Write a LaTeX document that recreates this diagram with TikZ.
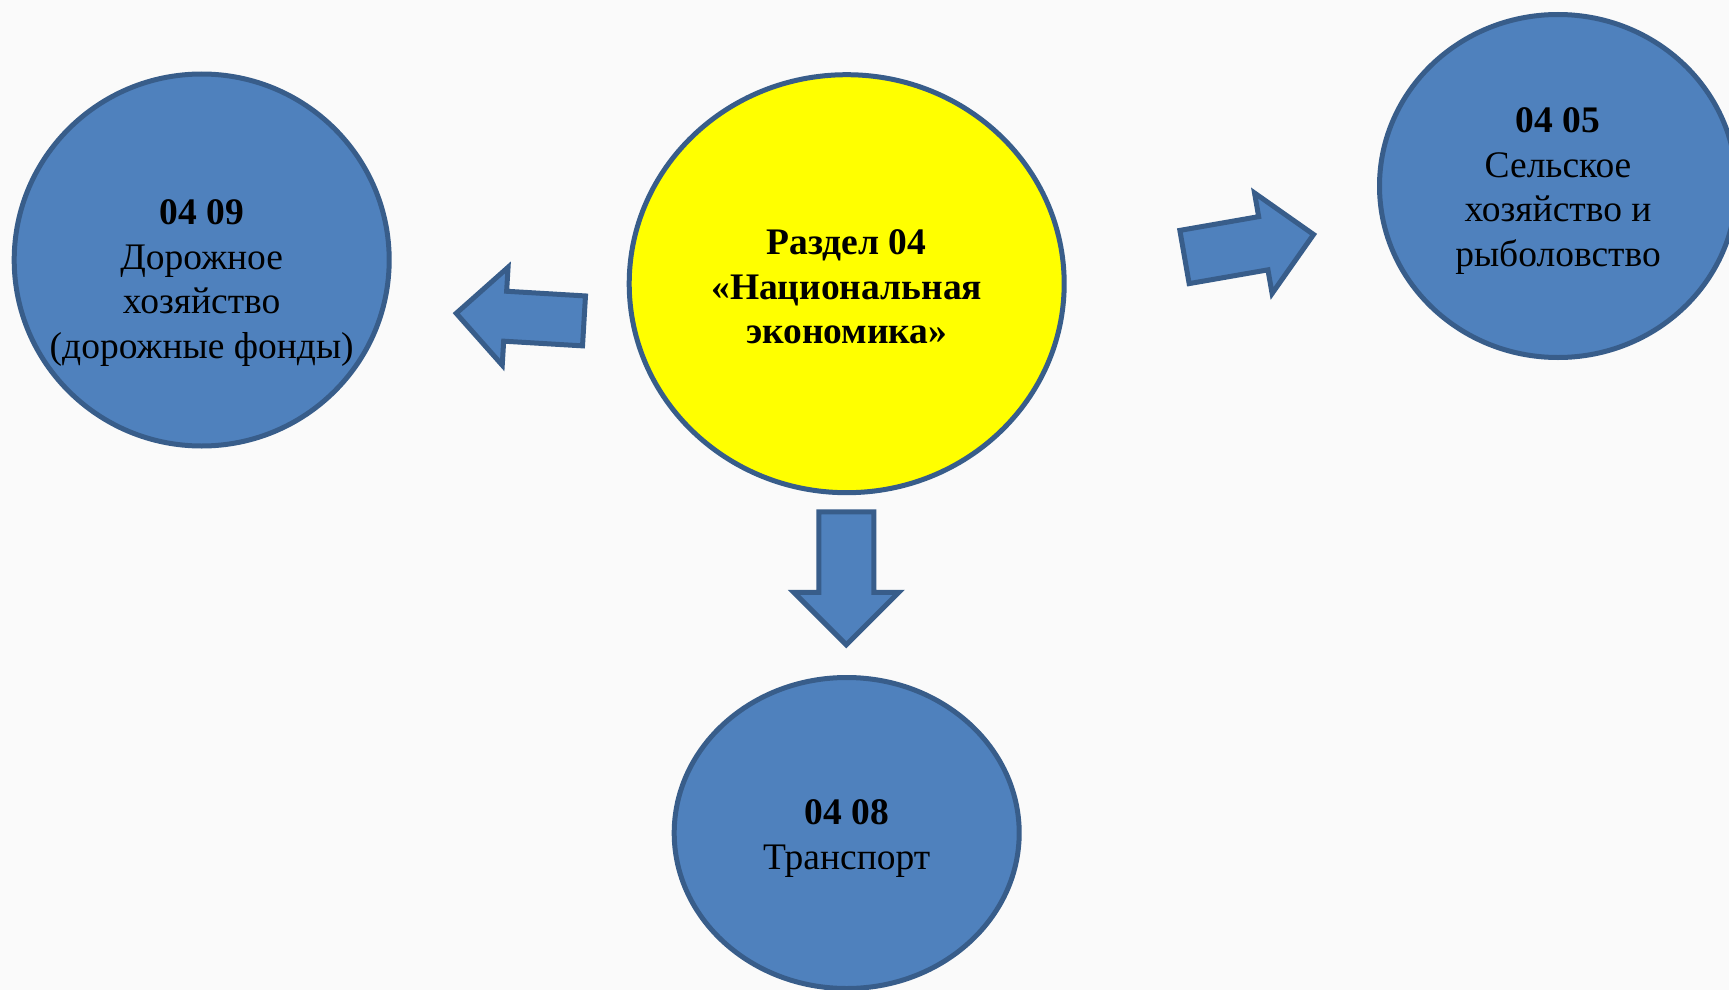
\documentclass[tikz,border=0pt]{standalone}
\usepackage{fontspec}
\setmainfont{Liberation Serif}
\usepackage{tikz}
\usetikzlibrary{shapes.geometric,shapes.arrows,positioning}
\definecolor{secblue}{HTML}{4F81BD}
\definecolor{secedge}{HTML}{385D8A}
\definecolor{mainyellow}{RGB}{255,255,0}
\definecolor{bgpaper}{HTML}{FAFAFA}
\tikzset{
    sect/.style={draw=secedge, ellipse, line width=5pt, fill=secblue, inner sep=0pt},
    mainsect/.style={sect, fill=mainyellow},
    sectext/.style={align=center, font=\fontsize{37.5}{44.5}\selectfont, inner sep=0pt},
    pointer/.style={single arrow, draw=secedge, fill=secblue, line width=5pt,
        single arrow head extend=24pt, minimum height=131pt,
        inner xsep=0pt, inner ysep=24.5pt, outer sep=0pt, anchor=tail}
}

\begin{document}
\begin{tikzpicture}[x=1pt, y=1pt]
            \fill[bgpaper] (0,0) rectangle (1729,-990);
            \useasboundingbox (0,0) rectangle (1729,-990);

            % razdel and its sections
            \node[mainsect, minimum width=435pt, minimum height=418pt] (razdel) at (846.7,-283.7) {};
            \node[sect, minimum width=375pt, minimum height=372pt] (s0409) at (201.7,-260) {};
            \node[sect, minimum width=357pt, minimum height=343pt] (s0405) at (1558,-186) {};
            \node[sect, minimum width=345pt, minimum height=311pt] (s0408) at (846.7,-833) {};

            \node[sectext] (t0409) at (201.7,-283.1) {\textbf{04 09}\\Дорожное\\хозяйство\\(дорожные фонды)};
            \node[sectext] (trazdel) at (846.7,-287) {\textbf{Раздел 04}\\\textbf{«Национальная}\\\textbf{экономика»}};
            \node[sectext] (t0405) at (1558,-190.8) {\textbf{04 05}\\Сельское\\хозяйство и\\рыболовство};
            \node[sectext] (t0408) at (846.7,-838.6) {\textbf{04 08}\\Транспорт};

            % block arrows
            \node[pointer, rotate=176.6, inner ysep=22.5pt, minimum height=128pt] (p0409) at (584,-320.9) {};
            \node[pointer, rotate=9.9] (p0405) at (1184.5,-257) {};
            \node[pointer, rotate=-90, inner ysep=25pt, single arrow head extend=25pt, minimum height=133pt] (p0408) at (846.3,-511.8) {};
        \end{tikzpicture}
\end{document}
